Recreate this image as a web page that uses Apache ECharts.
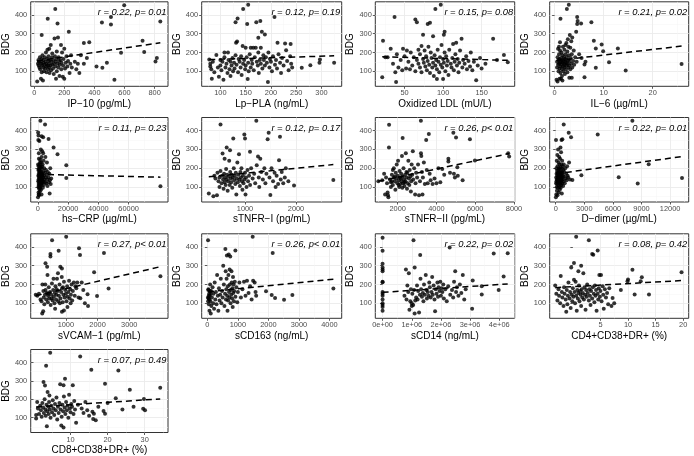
<!DOCTYPE html>
<html><head><meta charset="utf-8">
<script src="https://cdn.jsdelivr.net/npm/echarts@6/dist/echarts.min.js"></script>
<style>html,body{margin:0;padding:0;background:#fff}#c{width:694px;height:456px}</style>
</head><body><div id="c"></div>
<script>
// ---------------- DATA ----------------
const ip10Pts = [[20,45],[25,140],[28,160],[30,130],[32,150],[35,120],[38,175],[40,110],[42,150],[45,60],[48,140],[50,95],[50,165],[52,130],[55,185],[58,50],[60,120],[60,145],[62,160],[65,100],[68,135],[70,175],[72,115],[75,150],[78,200],[80,125],[80,140],[82,95],[85,165],[88,215],[90,130],[92,110],[95,155],[95,180],[98,140],[100,120],[100,220],[102,90],[105,160],[108,130],[110,240],[112,105],[115,150],[118,175],[120,135],[120,195],[125,115],[128,160],[130,85],[132,140],[135,275],[138,180],[140,125],[142,150],[145,60],[148,165],[150,100],[150,205],[155,140],[158,280],[160,120],[162,175],[165,155],[168,75],[170,135],[175,160],[178,240],[180,110],[182,145],[185,200],[190,70],[192,130],[195,165],[200,60],[200,220],[205,115],[210,145],[215,180],[220,125],[225,155],[230,310],[235,90],[240,140],[245,185],[250,120],[598,452],[140,432],[90,380],[155,355],[50,293],[510,390],[510,350],[450,360],[838,365],[366,255],[330,250],[720,262],[731,202],[815,170],[806,152],[533,55],[483,145],[577,198],[453,118],[414,125],[290,140],[310,185],[330,140],[270,150],[350,170],[280,110],[300,90]];
const lpplaPts = [[78,162],[80,140],[80,125],[82,110],[83,60],[85,150],[88,95],[92,186],[95,120],[97,70],[100,160],[100,130],[102,105],[104,150],[106,55],[108,200],[108,175],[110,120],[112,140],[114,90],[115,200],[116,160],[118,110],[120,150],[120,75],[122,130],[124,170],[125,100],[127,145],[128,115],[130,362],[130,185],[131,252],[132,135],[133,259],[134,382],[135,95],[136,165],[138,150],[140,120],[141,180],[142,80],[144,234],[145,432],[145,140],[147,160],[149,110],[150,225],[150,130],[152,175],[153,352],[154,59],[155,455],[155,145],[156,100],[158,190],[160,225],[160,120],[162,160],[163,140],[165,225],[166,105],[168,175],[170,225],[171,361],[172,150],[174,130],[175,278],[175,200],[176,90],[178,160],[179,368],[180,225],[180,140],[182,311],[183,115],[185,185],[186,160],[188,296],[188,130],[190,175],[192,145],[194,43],[195,200],[197,120],[198,165],[200,150],[202,100],[204,180],[207,390],[208,135],[210,160],[213,252],[212,115],[215,190],[218,145],[220,90],[222,170],[225,130],[228,248],[230,212],[232,155],[235,105],[238,180],[239,245],[240,140],[242,120],[261,118],[278,132],[297,162],[296,145],[325,145]];
const oxldlPts = [[21,68],[22,262],[25,175],[28,175],[32,220],[35,140],[37,390],[38,95],[39,43],[40,190],[42,120],[45,160],[47,105],[48,220],[50,180],[52,115],[53,210],[55,150],[57,110],[58,200],[60,130],[62,175],[64,376],[64,100],[66,362],[66,160],[68,215],[68,140],[70,190],[70,120],[72,235],[72,95],[74,295],[74,165],[75,145],[76,210],[77,125],[78,180],[79,105],[80,352],[80,155],[81,230],[82,135],[83,359],[83,90],[84,200],[85,170],[86,120],[87,286],[87,145],[88,75],[89,185],[90,432],[90,130],[91,160],[92,59],[92,110],[93,215],[94,150],[95,95],[96,175],[97,455],[97,135],[98,240],[99,120],[100,59],[100,165],[101,295],[101,145],[102,310],[102,200],[103,100],[104,180],[105,130],[106,155],[107,80],[108,215],[110,140],[111,120],[112,170],[113,245],[114,105],[115,150],[116,190],[117,252],[118,130],[119,165],[120,95],[121,145],[122,210],[124,273],[125,120],[126,160],[128,140],[130,180],[131,110],[133,155],[135,125],[136,200],[138,105],[140,150],[143,52],[145,130],[148,170],[150,115],[155,140],[165,273],[170,160],[179,186],[184,148]];
const il6Pts = [[0.4,55],[0.5,150],[0.5,120],[0.6,45],[0.6,175],[0.7,135],[0.7,220],[0.8,100],[0.8,160],[0.9,140],[0.9,190],[0.9,230],[1.0,115],[1.0,60],[1.0,165],[1.1,145],[1.1,210],[1.1,255],[1.2,380],[1.2,125],[1.2,90],[1.3,170],[1.3,150],[1.3,60],[1.4,135],[1.4,200],[1.5,110],[1.5,160],[1.5,75],[1.6,145],[1.6,185],[1.6,50],[1.7,125],[1.7,230],[1.8,155],[1.8,100],[1.9,140],[1.9,175],[2.0,120],[2.0,165],[2.0,215],[2.1,135],[2.1,85],[2.2,150],[2.2,190],[2.2,240],[2.3,110],[2.3,160],[2.4,130],[2.4,250],[2.5,432],[2.5,145],[2.5,175],[2.6,95],[2.6,205],[2.7,140],[2.7,270],[2.8,120],[2.8,160],[2.8,230],[2.9,455],[2.9,185],[3.0,130],[3.0,65],[3.1,293],[3.1,155],[3.2,225],[3.2,110],[3.3,170],[3.4,140],[3.4,260],[3.5,190],[3.5,65],[3.6,120],[3.6,280],[3.8,155],[3.9,210],[4.0,135],[4.2,175],[4.4,310],[4.5,150],[4.6,390],[4.6,352],[4.7,368],[5.0,190],[5.4,355],[5.5,171],[6.1,136],[6.1,68],[6.3,150],[7.5,361],[8.0,262],[8.4,221],[8.4,118],[9.6,243],[9.9,207],[11.1,148],[12.9,221],[14.5,104],[25.9,139]];
const hscrpPts = [[100,45],[150,220],[200,390],[250,130],[300,160],[300,350],[350,190],[400,375],[400,100],[450,70],[500,140],[500,210],[550,110],[600,60],[600,170],[650,280],[700,120],[700,250],[750,195],[800,150],[800,90],[850,55],[900,185],[950,160],[1000,130],[1000,345],[1050,100],[1100,160],[1100,220],[1150,175],[1200,110],[1200,140],[1250,210],[1300,75],[1300,195],[1350,130],[1400,150],[1450,90],[1500,125],[1500,230],[1550,245],[1600,170],[1650,140],[1700,453],[1700,100],[1750,120],[1800,145],[1850,180],[1900,205],[1950,300],[2000,135],[2000,160],[2050,115],[2100,85],[2150,230],[2200,180],[2300,120],[2350,170],[2400,150],[2450,60],[2500,370],[2500,260],[2550,140],[2600,110],[2650,125],[2700,195],[2750,210],[2800,140],[2850,160],[2900,290],[3000,165],[3000,125],[3200,220],[3300,95],[3400,150],[3500,365],[3500,280],[3600,180],[3700,130],[3800,240],[4000,160],[4000,110],[4200,200],[4400,140],[4600,175],[4750,433],[4800,125],[5000,260],[5200,150],[5400,190],[5600,120],[5800,165],[6000,230],[6200,140],[6400,105],[6600,180],[7000,150],[7100,356],[7300,125],[7600,170],[7800,65],[8000,135],[8200,200],[8500,115],[8800,145],[10400,310],[13000,274],[18800,215],[18800,148],[81000,103]];
const stnfr1Pts = [[290,65],[380,50],[400,160],[420,145],[450,55],[460,175],[480,130],[500,100],[500,150],[520,433],[520,185],[540,120],[550,160],[560,279],[570,140],[580,90],[590,170],[600,250],[600,125],[610,150],[620,110],[630,195],[641,310],[640,140],[650,165],[660,80],[670,130],[680,155],[690,240],[700,110],[706,296],[710,180],[720,145],[730,125],[740,165],[750,95],[760,150],[770,359],[780,200],[790,135],[800,160],[810,115],[820,175],[830,60],[840,145],[850,230],[860,125],[870,165],[882,274],[890,140],[900,105],[910,180],[920,150],[930,200],[940,130],[950,85],[960,160],[970,120],[987,380],[990,140],[1000,359],[1000,175],[1010,60],[1020,150],[1030,100],[1050,190],[1060,130],[1080,160],[1098,288],[1100,110],[1120,200],[1150,145],[1180,170],[1200,120],[1222,453],[1230,215],[1255,262],[1270,150],[1280,100],[1300,250],[1320,180],[1350,140],[1380,200],[1400,120],[1420,170],[1444,354],[1464,389],[1480,150],[1497,57],[1520,200],[1550,130],[1580,175],[1600,100],[1620,160],[1650,115],[1667,242],[1686,368],[1700,140],[1720,180],[1750,120],[1780,150],[1800,200],[1850,130],[1961,107],[2732,137]];
const stnfr2Pts = [[1000,130],[1200,135],[1300,170],[1350,60],[1400,150],[1450,120],[1480,70],[1500,55],[1520,45],[1550,310],[1556,432],[1600,140],[1650,125],[1650,100],[1700,165],[1700,130],[1750,110],[1750,190],[1800,150],[1800,200],[1850,130],[1850,155],[1880,85],[1900,175],[1920,145],[1950,220],[1980,120],[2000,160],[2020,240],[2050,135],[2050,110],[2080,100],[2100,185],[2120,150],[2150,115],[2150,145],[2180,170],[2200,130],[2220,265],[2240,95],[2256,361],[2260,155],[2280,120],[2300,200],[2320,140],[2350,105],[2350,125],[2380,165],[2400,130],[2420,280],[2450,150],[2450,180],[2480,90],[2500,175],[2520,120],[2550,240],[2580,145],[2600,110],[2620,190],[2650,155],[2680,75],[2700,130],[2720,220],[2750,165],[2780,290],[2800,140],[2850,200],[2900,60],[2920,120],[2950,175],[3000,150],[3050,220],[3100,55],[3150,130],[3197,453],[3200,280],[3220,265],[3250,180],[3280,60],[3300,150],[3350,230],[3400,115],[3470,350],[3500,190],[3550,120],[3607,383],[3650,170],[3700,135],[3800,115],[3900,145],[4000,120],[4100,200],[4200,125],[4300,195],[4400,165],[4615,251],[4615,235],[4700,175],[4872,389],[4900,170],[4950,150],[5009,364],[5077,205],[5100,160],[5350,135],[5726,355],[5983,241],[7700,280],[7750,262]];
const ddimerPts = [[20,45],[30,350],[40,120],[50,150],[60,60],[70,200],[80,130],[90,170],[100,100],[110,240],[120,140],[130,80],[140,185],[150,115],[160,160],[170,270],[180,135],[190,55],[200,210],[210,150],[220,95],[230,175],[240,125],[250,300],[260,145],[270,190],[280,110],[290,165],[300,230],[310,130],[320,70],[330,155],[340,200],[350,120],[360,260],[370,145],[380,180],[390,100],[400,220],[410,140],[420,165],[430,85],[440,195],[450,130],[460,250],[470,155],[480,115],[490,175],[500,310],[510,140],[520,205],[530,95],[540,160],[550,125],[560,285],[570,180],[580,145],[590,110],[600,220],[610,350],[620,135],[630,170],[640,65],[650,195],[660,150],[670,120],[680,240],[690,175],[700,355],[720,140],[740,210],[760,160],[780,105],[800,190],[820,130],[839,433],[850,220],[870,155],[900,180],[950,120],[1000,200],[1050,145],[1100,170],[1150,135],[1200,210],[1250,160],[1300,150],[1363,389],[1400,230],[1500,140],[1608,365],[1748,137],[2692,162],[4405,380],[6608,152],[8042,453],[8601,118],[9755,221],[13250,148]];
const svcamPts = [[50,145],[100,140],[150,150],[200,120],[230,110],[254,45],[260,200],[285,57],[290,165],[300,130],[320,95],[340,145],[350,200],[357,313],[360,170],[380,120],[400,155],[409,294],[420,250],[430,105],[440,140],[450,150],[460,185],[480,125],[500,160],[513,363],[513,350],[520,90],[540,145],[550,125],[560,205],[565,436],[580,115],[600,170],[610,230],[620,135],[640,100],[650,155],[660,70],[670,190],[690,120],[700,145],[710,175],[720,230],[740,165],[750,260],[760,110],[772,380],[780,140],[800,200],[810,100],[824,294],[830,125],[850,160],[870,240],[876,285],[876,55],[880,180],[900,105],[910,185],[920,145],[938,61],[940,215],[960,130],[980,170],[1010,455],[1000,150],[1020,110],[1040,190],[1050,80],[1060,135],[1080,160],[1100,220],[1120,125],[1140,175],[1150,100],[1160,145],[1180,200],[1200,115],[1220,165],[1250,210],[1280,140],[1300,190],[1330,180],[1360,210],[1400,130],[1415,393],[1446,358],[1456,127],[1500,210],[1550,170],[1600,100],[1684,148],[1700,85],[1891,265],[1984,139],[2202,368],[2347,178],[3984,244]];
const scd163Pts = [[20,130],[22,436],[25,110],[30,170],[35,175],[40,125],[45,140],[50,95],[60,150],[65,120],[70,60],[80,140],[85,165],[90,200],[100,110],[105,150],[110,45],[120,165],[130,85],[150,130],[170,185],[190,100],[200,150],[220,70],[240,210],[260,120],[280,160],[300,95],[320,250],[340,140],[360,60],[380,180],[400,115],[420,145],[440,230],[460,100],[480,165],[500,130],[520,300],[540,200],[560,85],[580,150],[590,390],[600,270],[610,120],[620,175],[630,230],[640,355],[650,140],[660,60],[670,190],[680,115],[690,250],[700,360],[710,160],[720,130],[730,280],[740,200],[750,350],[760,100],[770,170],[780,145],[790,270],[800,210],[810,125],[820,180],[830,80],[840,240],[850,155],[860,200],[870,110],[880,165],[900,215],[918,382],[920,135],[950,185],[980,105],[1000,160],[1050,210],[1100,130],[1150,175],[1200,215],[1250,140],[1300,220],[1350,155],[1400,190],[1450,120],[1486,455],[1500,220],[1550,210],[1580,160],[1600,140],[1923,164],[2109,144],[2142,368],[2219,128],[2514,118],[2787,144],[4131,178]];
const scd14Pts = [[0,450],[0,380],[0,310],[0,290],[0,280],[0,270],[0,215],[0,212],[0,160],[0,150],[0,140],[0,120],[0,100],[0,90],[0,80],[0,60],[750000,140],[800000,280],[820000,120],[850000,195],[880000,160],[900000,260],[920000,65],[950000,110],[970000,175],[1000000,100],[1000000,85],[1020000,150],[1050000,90],[1060000,436],[1080000,170],[1100000,290],[1100000,45],[1120000,115],[1150000,130],[1180000,195],[1200000,120],[1220000,165],[1250000,50],[1280000,145],[1290000,358],[1300000,230],[1320000,175],[1350000,135],[1380000,155],[1400000,110],[1420000,200],[1450000,145],[1480000,250],[1500000,170],[1520000,125],[1550000,160],[1580000,140],[1600000,210],[1620000,185],[1650000,130],[1680000,160],[1700000,240],[1720000,145],[1750000,195],[1780000,120],[1800000,57],[1820000,175],[1850000,150],[1880000,210],[1900000,135],[1920000,185],[1950000,165],[1980000,215],[2000000,140],[2020000,180],[2050000,160],[2080000,200],[2100000,125],[2150000,175],[2200000,110],[2250000,190],[2300000,397],[2320000,145],[2380000,170],[2420000,130],[2450000,215],[2490000,270],[2520000,160],[2550000,185],[2600000,140],[2650000,200],[2700000,155],[2750000,250],[2800000,120],[2850000,175],[3070000,70],[3090000,221],[3400000,190],[3400000,146],[3810000,365],[3980000,170],[4150000,242],[4290000,367]];
const cd4Pts = [[-3.2,195],[-3.0,150],[-2.8,115],[-2.6,175],[-2.5,140],[-2.3,100],[-2.2,245],[-2.0,160],[-1.9,130],[-1.7,85],[-1.6,185],[-1.5,150],[-1.3,120],[-1.2,55],[-1.1,170],[-1.0,95],[-0.9,140],[-0.8,210],[-0.6,125],[-0.5,160],[-0.4,75],[-0.3,290],[-0.2,145],[-0.1,110],[0.0,180],[0.1,135],[0.2,315],[0.2,225],[0.3,160],[0.4,100],[0.5,215],[0.6,455],[0.6,140],[0.7,60],[0.8,170],[0.9,125],[1.0,270],[1.0,155],[1.1,195],[1.2,110],[1.3,165],[1.4,145],[1.5,300],[1.5,85],[1.6,175],[1.7,130],[1.8,155],[1.9,260],[2.0,120],[2.1,185],[2.2,145],[2.3,65],[2.4,170],[2.5,135],[2.6,200],[2.7,155],[2.9,436],[2.9,115],[3.0,175],[3.1,140],[3.2,90],[3.3,165],[3.5,363],[3.5,125],[3.6,185],[3.7,359],[3.8,150],[3.9,105],[4.0,195],[4.1,140],[4.2,170],[4.3,60],[4.5,382],[4.5,150],[4.6,120],[4.7,180],[4.8,250],[4.9,135],[5.0,165],[5.1,250],[5.2,110],[5.4,190],[5.5,145],[5.6,70],[5.8,175],[6.0,130],[6.2,155],[6.4,95],[6.6,180],[7.0,85],[7.2,128],[7.5,100],[8.7,171],[9.9,217],[10.0,226],[10.8,278],[11.2,146],[12.3,217],[12.5,239],[13.8,146],[19.7,265]];
const cd8Pts = [[0.7,114],[0.7,96],[1.0,185],[1.2,150],[1.5,120],[1.8,165],[2.0,140],[2.2,105],[2.4,180],[2.6,155],[2.7,294],[2.8,125],[3.0,200],[3.1,275],[3.2,145],[3.3,110],[3.4,382],[3.5,170],[3.6,54],[3.7,135],[3.8,240],[4.0,160],[4.1,120],[4.2,185],[4.3,220],[4.4,145],[4.5,453],[4.6,100],[4.8,165],[5.0,130],[5.2,195],[5.4,150],[5.6,115],[5.8,175],[6.0,140],[6.2,210],[6.4,90],[6.6,160],[6.8,125],[7.0,180],[7.2,282],[7.3,145],[7.5,58],[7.6,105],[7.8,170],[8.0,135],[8.1,276],[8.1,47],[8.2,215],[8.4,155],[8.5,312],[8.6,120],[8.8,185],[9.0,140],[9.2,165],[9.4,100],[9.6,225],[9.8,150],[10.0,130],[10.2,175],[10.4,160],[10.6,276],[10.8,120],[11.0,190],[11.2,145],[11.5,72],[12.0,170],[12.6,433],[13.0,150],[13.5,125],[14.0,185],[14.5,140],[15.0,110],[15.6,361],[15.9,132],[16.1,93],[16.3,121],[16.8,86],[17.5,160],[18.9,137],[19.3,285],[19.3,121],[20.0,180],[22.2,206],[22.9,356],[24.0,145],[26.0,252],[27.0,160],[29.6,149],[29.8,202],[30.1,140],[34.2,262]];

const panelPoints = [ip10Pts, lpplaPts, oxldlPts, il6Pts, hscrpPts, stnfr1Pts, stnfr2Pts, ddimerPts, svcamPts, scd163Pts, scd14Pts, cd4Pts, cd8Pts];
const fitLines = [
  [[18,155],[838,252]], [[78,162],[325,182]], [[21,177],[184,158]], [[0.4,157],[25.9,234]],
  [[100,167],[81000,152]], [[290,154],[2732,219]], [[1000,130],[7750,278]], [[20,170],[13250,262]],
  [[50,140],[3984,295]], [[20,161],[4131,228]], [[0,158],[4290000,203]], [[-3.2,183],[19.7,221]],
  [[0.7,158],[34.2,202]]
];
const xTitles = ['IP\u221210 (pg/mL)','Lp\u2212PLA (ng/mL)','Oxidized LDL (mU/L)','IL\u22126 (\u00b5g/mL)',
  'hs\u2212CRP (\u00b5g/mL)','sTNFR\u2212I (pg/mL)','sTNFR\u2212II (pg/mL)','D\u2212dimer (\u00b5g/mL)',
  'sVCAM\u22121 (pg/mL)','sCD163 (ng/mL)','sCD14 (ng/mL)','CD4+CD38+DR+ (%)','CD8+CD38+DR+ (%)'];
const statLabels = ['r = 0.22, p= 0.01','r = 0.12, p= 0.19','r = 0.15, p= 0.08','r = 0.21, p= 0.02',
  'r = 0.11, p= 0.23','r = 0.12, p= 0.17','r = 0.26, p< 0.01','r = 0.22, p= 0.01',
  'r = 0.27, p< 0.01','r = 0.26, p< 0.01','r = 0.22, p= 0.02','r = 0.08, p= 0.42','r = 0.07, p= 0.49'];
const xLimits = [[-23,889],[63,340],[12,193],[-1.0,27.35],[-4700,86000],[151,2896],[845,8036],[-630,13950],
  [-109,4223],[-186,4404],[-250000,4530000],[-4.2,21.0],[-0.75,36.3]];
const xTicks = [[0,200,400,600,800],[100,150,200,250,300],[50,100,150],[0,10,20],[0,20000,40000,60000],
  [1000,2000],[2000,4000,6000,8000],[0,3000,6000,9000,12000],[1000,2000,3000],[0,1000,2000,3000,4000],
  [0,1000000,2000000,3000000,4000000],[5,10,15,20],[10,20,30]];
const xTickLabels = [['0','200','400','600','800'],['100','150','200','250','300'],['50','100','150'],['0','10','20'],
  ['0','20000','40000','60000'],['1000','2000'],['2000','4000','6000','8000'],['0','3000','6000','9000','12000'],
  ['1000','2000','3000'],['0','1000','2000','3000','4000'],['0e+00','1e+06','2e+06','3e+06','4e+06'],
  ['5','10','15','20'],['10','20','30']];
const yTitle = 'BDG';
const yLimits = [19.5, 470.5];
const yTicks = [100,200,300,400];
const yTickLabels = ['100','200','300','400'];

// ---------------- LAYOUT ----------------
const colLeft = [27.7, 201.7, 375.3, 549.7];
const colWidth = [140.3, 140, 139.4, 139];
const rowTop = [1.8, 117.5, 233.8, 349.5];
const rowHeight = 84.5;
const FONT = '"Liberation Sans", Arial, Helvetica, sans-serif';

function minorsOf(ticks, lim) {
  const step = ticks.length > 1 ? ticks[1] - ticks[0] : 1;
  const out = [];
  const first = ticks[0] - step / 2, last = ticks[ticks.length - 1] + step / 2;
  for (let v = first; v <= last + 1e-9; v += step) {
    if (v > lim[0] && v < lim[1]) out.push(v);
  }
  return out;
}

const grids = [], xAxes = [], yAxes = [], series = [], graphics = [];
panelPoints.forEach((pts, i) => {
  const r = Math.floor(i / 4), c = i % 4;
  const left = colLeft[c], top = rowTop[r], w = colWidth[c];
  grids.push({left: left, top: top, width: w, height: rowHeight, show: true,
    borderColor: '#333333', borderWidth: 1, backgroundColor: '#ffffff', containLabel: false});
  const xt = xTicks[i], xl = xTickLabels[i];
  xAxes.push({
    gridIndex: i, type: 'value', min: xLimits[i][0], max: xLimits[i][1], position: 'bottom',
    axisLine: {show: false},
    axisTick: {show: true, length: 2.5, customValues: xt, lineStyle: {color: '#333333', width: 0.8}},
    axisLabel: {show: true, customValues: xt, margin: 3.5, fontSize: 7.4, color: '#4D4D4D', fontFamily: FONT,
      showMinLabel: true, showMaxLabel: true,
      formatter: function (v) { const k = xt.indexOf(v); return k >= 0 ? xl[k] : ''; }},
    splitLine: {show: true, lineStyle: {color: '#EBEBEB', width: 0.9}},
    name: xTitles[i], nameLocation: 'middle', nameGap: 12.5,
    nameTextStyle: {fontSize: 10, color: '#000000', fontFamily: FONT}
  });
  const xm = minorsOf(xt, xLimits[i]);
  xAxes.push({
    gridIndex: i, type: 'value', min: xLimits[i][0], max: xLimits[i][1], position: 'top',
    axisLine: {show: false}, axisTick: {show: false, customValues: xm},
    axisLabel: {show: false, customValues: xm},
    splitLine: {show: true, lineStyle: {color: '#F4F4F4', width: 0.5}}
  });
  yAxes.push({
    gridIndex: i, type: 'value', min: yLimits[0], max: yLimits[1], position: 'left',
    axisLine: {show: false},
    axisTick: {show: true, length: 2.5, customValues: yTicks, lineStyle: {color: '#333333', width: 0.8}},
    axisLabel: {show: true, customValues: yTicks, margin: 3.5, fontSize: 7.4, color: '#4D4D4D', fontFamily: FONT,
      formatter: function (v) { const k = yTicks.indexOf(v); return k >= 0 ? yTickLabels[k] : ''; }},
    splitLine: {show: true, lineStyle: {color: '#EBEBEB', width: 0.9}},
    name: yTitle, nameLocation: 'middle', nameGap: 14.5, nameRotate: 90,
    nameTextStyle: {fontSize: 10, color: '#000000', fontFamily: FONT}
  });
  const ym = minorsOf(yTicks, yLimits);
  yAxes.push({
    gridIndex: i, type: 'value', min: yLimits[0], max: yLimits[1], position: 'right',
    axisLine: {show: false}, axisTick: {show: false, customValues: ym},
    axisLabel: {show: false, customValues: ym},
    splitLine: {show: true, lineStyle: {color: '#F4F4F4', width: 0.5}}
  });
  series.push({
    type: 'scatter', xAxisIndex: 2 * i, yAxisIndex: 2 * i, data: pts,
    symbol: 'circle', symbolSize: 4, itemStyle: {color: '#000000'}, silent: true, z: 3
  });
  series.push({
    type: 'line', xAxisIndex: 2 * i, yAxisIndex: 2 * i, data: fitLines[i],
    showSymbol: false, symbol: 'none', silent: true, z: 4,
    lineStyle: {color: '#000000', width: 1.5, type: [6, 4]}
  });
  graphics.push({
    type: 'text', x: left + w - 1.5, y: top + 10.5, silent: true, z: 10,
    style: {text: statLabels[i], fontSize: 9.4, fontStyle: 'italic', fontFamily: FONT, fill: '#000000',
      align: 'right', verticalAlign: 'middle'}
  });
});

const chart = echarts.init(document.getElementById('c'), null, {renderer: 'canvas'});
chart.setOption({
  animation: false,
  backgroundColor: '#ffffff',
  grid: grids, xAxis: xAxes, yAxis: yAxes, series: series, graphic: graphics
});
</script>
</body></html>
